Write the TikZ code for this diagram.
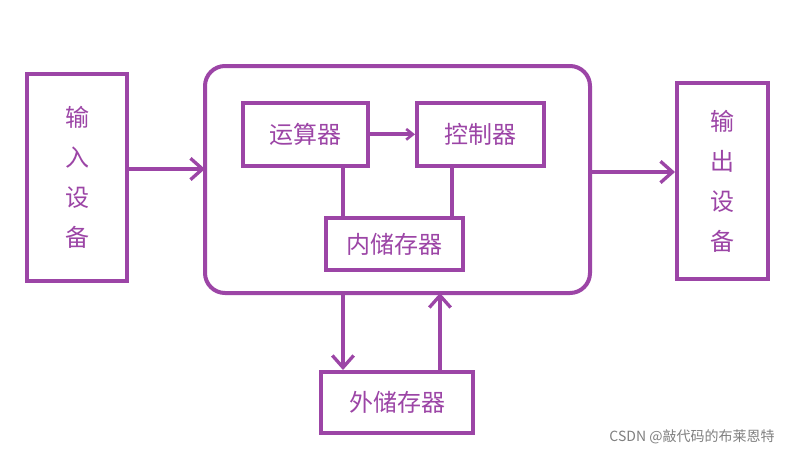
\documentclass[tikz,border=0pt]{standalone}
\usepackage{fontspec}
\setmainfont{Noto Sans CJK SC}
\usetikzlibrary{arrows.meta}
\definecolor{pp}{HTML}{9C45A6}
\begin{document}
\begin{tikzpicture}[x=0.75pt,y=-0.75pt,
  bx/.style={draw=pp,line width=3pt,text=pp,font=\fontsize{18}{20}\selectfont},
  ln/.style={draw=pp,line width=3pt},
  ar/.style={ln,-{Straight Barb[length=9pt,width=16pt,line width=2.5pt]}}]
\useasboundingbox[fill=white] (0,0) rectangle (797,454);
\node[bx,minimum width=75pt,minimum height=155pt,anchor=north west,align=center,font=\fontsize{18}{30}\selectfont] (in) at (25,72) {输\\入\\设\\备};
\draw[ln,rounded corners=15pt] (205,66) rectangle (590,293);
\coordinate (bigL) at (205,169);
\coordinate (bigR) at (590,172);
\node[bx,minimum width=94pt,minimum height=47pt,anchor=north west] (alu) at (241,101) {运算器};
\node[bx,minimum width=95pt,minimum height=47pt,anchor=north west] (cu) at (415,101) {控制器};
\node[bx,minimum width=103pt,minimum height=39pt,anchor=north west] (mem) at (324,216) {内储存器};
\node[bx,minimum width=68pt,minimum height=147pt,anchor=north west,align=center,font=\fontsize{18}{30}\selectfont] (out) at (675,81) {输\\出\\设\\备};
\node[bx,minimum width=114pt,minimum height=46pt,anchor=north west] (ext) at (319,370) {外储存器};
\coordinate (b1) at (343,293);
\coordinate (b2) at (440,293);
\draw[ar] (in.east|-bigL) -- (bigL);
\draw[ar] (bigR) -- (out.west|-bigR);
\draw[ln,-{Straight Barb[length=5pt,width=8pt,line width=2pt]}] (alu.east) -- (cu.west);
\draw[ln] (alu.south-|b1) -- (mem.north-|b1);
\draw[ln] (cu.south-|452,0) -- (452,218);
\draw[ar] (b1) -- (ext.north-|b1);
\draw[ar] (ext.north-|b2) -- (b2);
\node[text=gray,font=\fontsize{10.5}{12}\selectfont] (wm) at (692,437) {CSDN @敲代码的布莱恩特};
\end{tikzpicture}
\end{document}
